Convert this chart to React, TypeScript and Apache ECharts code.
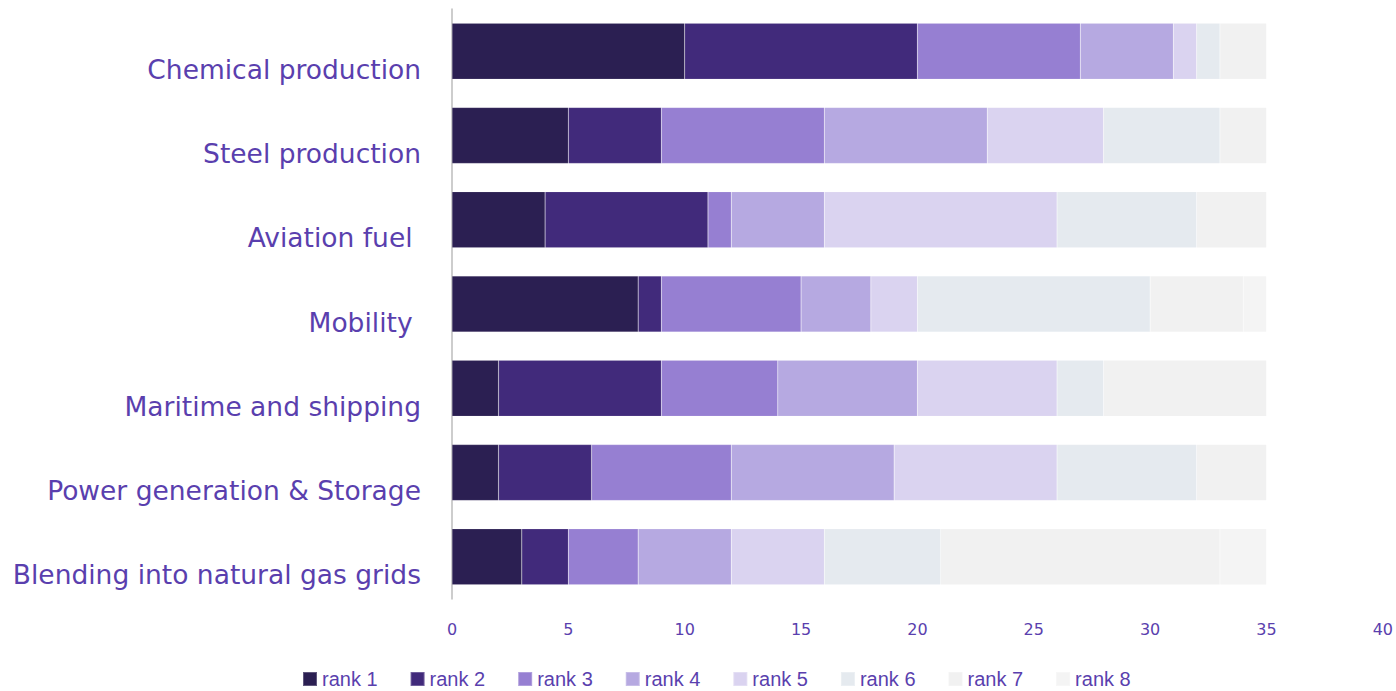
import React, { useEffect, useRef } from "react";
import * as echarts from "echarts";

// Use cases, listed top to bottom
const categories = [
  "Chemical production",
  "Steel production",
  "Aviation fuel ",
  "Mobility ",
  "Maritime and shipping",
  "Power generation & Storage",
  "Blending into natural gas grids",
];

const rankNames = ["rank 1", "rank 2", "rank 3", "rank 4", "rank 5", "rank 6", "rank 7", "rank 8"];

// Votes per rank, one value per use case (same order as categories)
const rank1 = [10, 5, 4, 8, 2, 2, 3];
const rank2 = [10, 4, 7, 1, 7, 4, 2];
const rank3 = [7, 7, 1, 6, 5, 6, 3];
const rank4 = [4, 7, 4, 3, 6, 7, 4];
const rank5 = [1, 5, 10, 2, 6, 7, 4];
const rank6 = [1, 5, 6, 10, 2, 6, 5];
const rank7 = [2, 2, 3, 4, 7, 3, 12];
const rank8 = [0, 0, 0, 1, 0, 0, 2];

const rankValues = [rank1, rank2, rank3, rank4, rank5, rank6, rank7, rank8];

const rankColors = [
  "#2b1f52",
  "#412a7b",
  "#967fd2",
  "#b6a9e1",
  "#dad3f0",
  "#e5eaef",
  "#f1f1f1",
  "#f4f4f4",
];

const xTicks = { min: 0, max: 40, interval: 5 };

const textPurple = "#5a3fae";

export default function App() {
  const ref = useRef<HTMLDivElement>(null);

  useEffect(() => {
    if (!ref.current) return;
    const chart = echarts.init(ref.current, null, { renderer: "svg" });

    const series = rankNames.map((name, i) => ({
      name,
      type: "bar" as const,
      stack: "total",
      barWidth: 56,
      data: rankValues[i],
      itemStyle: {
        color: rankColors[i],
        borderColor: "rgba(255,255,255,0.25)",
        borderWidth: 0.5,
      },
      emphasis: { disabled: true },
    }));

    chart.setOption({
      animation: false,
      grid: { left: 452, right: 13, top: 9, bottom: 92, containLabel: false },
      xAxis: {
        type: "value",
        min: xTicks.min,
        max: xTicks.max,
        interval: xTicks.interval,
        axisLine: { show: false },
        axisTick: { show: false },
        splitLine: { show: false },
        axisLabel: {
          color: textPurple,
          fontFamily: "DejaVu Sans",
          fontSize: 16,
          margin: 22,
        },
      },
      yAxis: {
        type: "category",
        data: categories,
        inverse: true,
        axisTick: { show: false },
        axisLine: { show: true, lineStyle: { color: "#bdbdbd", width: 1.5 } },
        axisLabel: {
          color: textPurple,
          fontFamily: "DejaVu Sans",
          fontSize: 26.5,
          margin: 31,
          verticalAlign: "top",
          lineHeight: 36,
        },
      },
      legend: {
        data: rankNames,
        top: 664,
        left: 297,
        icon: "rect",
        itemWidth: 14,
        itemHeight: 14,
        itemGap: 32,
        itemTextGap: 5,
        textStyle: {
          color: textPurple,
          fontFamily: "Liberation Sans",
          fontSize: 20,
        },
      },
      series,
    });

    return () => chart.dispose();
  }, []);

  return (
    <div
      ref={ref}
      style={{ position: "fixed", left: 0, top: 0, width: 1396, height: 691, background: "#fff" }}
    />
  );
}
